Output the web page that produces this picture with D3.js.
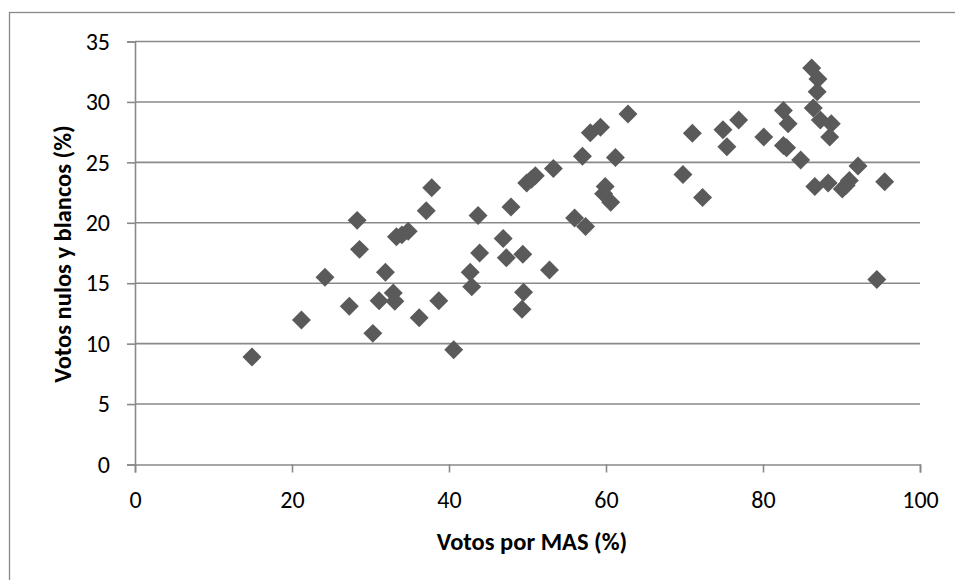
<!DOCTYPE html>
<html>
<head>
<meta charset="utf-8">
<script src="https://cdn.jsdelivr.net/npm/d3@7"></script>
<style>
    body { margin: 0; background: #fff; }
    text { font-family: Carlito, Calibri, Lato, sans-serif; fill: #000; }
</style>
</head>
<body>
<div id="chart"></div>
<script>
// % votos por MAS
var masVotes = [
    14.9, 21.2, 24.2, 27.3, 28.3, 28.6, 30.3, 31.1, 31.9, 32.9,
    33.1, 33.3, 34.0, 34.8, 36.2, 37.1, 37.8, 38.7, 40.6, 42.7,
    42.9, 43.7, 43.9, 46.9, 47.3, 47.9, 49.4, 49.5, 49.3, 49.9,
    50.5, 51.0, 52.8, 53.3, 56.0, 57.0, 57.4, 58.0, 59.3, 59.9,
    59.7, 60.6, 61.2, 62.8, 69.8, 71.0, 72.3, 74.9, 75.4, 76.9,
    80.1, 82.6, 83.2, 82.6, 83.0, 84.8, 86.2, 87.0, 86.9, 86.4,
    87.3, 88.7, 88.5, 86.6, 88.3, 90.1, 90.6, 91.0, 92.1, 95.5,
    94.5
];
// % votos nulos y blancos
var nullVotes = [
    8.9, 11.95, 15.5, 13.1, 20.2, 17.8, 10.85, 13.55, 15.9, 14.2,
    13.5, 18.85, 19.0, 19.3, 12.15, 21.0, 22.9, 13.55, 9.5, 15.9,
    14.7, 20.6, 17.5, 18.7, 17.1, 21.3, 17.4, 14.25, 12.85, 23.3,
    23.6, 23.9, 16.1, 24.5, 20.4, 25.5, 19.7, 27.45, 27.9, 23.0,
    22.4, 21.7, 25.4, 29.0, 24.0, 27.4, 22.1, 27.7, 26.3, 28.5,
    27.1, 29.3, 28.2, 26.4, 26.2, 25.2, 32.8, 31.9, 30.85, 29.5,
    28.5, 28.2, 27.1, 23.0, 23.3, 22.8, 23.1, 23.5, 24.7, 23.4,
    15.3
];
var xTicks = [0, 20, 40, 60, 80, 100];
var yTicks = [0, 5, 10, 15, 20, 25, 30, 35];

var width = 955, height = 580;
var margin = { left: 135, right: 35, top: 41.5, bottom: 115.5 };
var gridColor = '#898989';

var svg = d3.select('#chart')
    .append('svg')
    .attr('width', width)
    .attr('height', height);

// chart frame (runs off the right and bottom edge)
svg.append('rect')
    .attr('x', 9.5)
    .attr('y', 12.5)
    .attr('width', 1000)
    .attr('height', 1000)
    .attr('fill', '#fff')
    .attr('stroke', gridColor)
    .attr('stroke-width', 1.3);

var x = d3.scaleLinear().domain([0, 100]).range([margin.left, width - margin.right]);
var y = d3.scaleLinear().domain([0, 35]).range([height - margin.bottom, margin.top]);

// horizontal gridlines
svg.append('g')
    .selectAll('line')
    .data(yTicks.slice(1))
    .enter()
    .append('line')
    .attr('x1', x(0))
    .attr('x2', x(100))
    .attr('y1', d => y(d))
    .attr('y2', d => y(d))
    .attr('stroke', gridColor)
    .attr('stroke-width', 1.6);

var xAxis = svg.append('g')
    .attr('transform', 'translate(0,' + y(0) + ')')
    .call(d3.axisBottom(x).tickValues(xTicks).tickSize(8).tickPadding(18));

var yAxis = svg.append('g')
    .attr('transform', 'translate(' + x(0) + ',0)')
    .call(d3.axisLeft(y).tickValues(yTicks).tickSize(8).tickPadding(17));

[xAxis, yAxis].forEach(g => {
    g.select('.domain').attr('stroke', gridColor).attr('stroke-width', 1.6);
    g.selectAll('.tick line').attr('stroke', gridColor).attr('stroke-width', 1.6);
    g.selectAll('.tick text')
        .attr('font-size', 24)
        .attr('font-family', 'Carlito, Calibri, Lato, sans-serif')
        .attr('fill', '#000');
});

// diamond markers
var diamond = d3.symbol().type(d3.symbolSquare).size(180);
var points = masVotes.map((v, i) => ({ x: v, y: nullVotes[i] }));

svg.append('g')
    .selectAll('path')
    .data(points)
    .enter()
    .append('path')
    .attr('d', diamond)
    .attr('transform', d => 'translate(' + x(d.x) + ',' + y(d.y) + ') rotate(45)')
    .attr('fill', '#5a5a5a');

// axis titles
svg.append('text')
    .attr('x', 532)
    .attr('y', 550)
    .attr('text-anchor', 'middle')
    .attr('font-size', 24.5)
    .attr('font-weight', 'bold')
    .text('Votos por MAS (%)');

svg.append('text')
    .attr('transform', 'translate(71,' + 254 + ') rotate(-90)')
    .attr('text-anchor', 'middle')
    .attr('font-size', 24.5)
    .attr('font-weight', 'bold')
    .text('Votos nulos y blancos (%)');
</script>
</body>
</html>
